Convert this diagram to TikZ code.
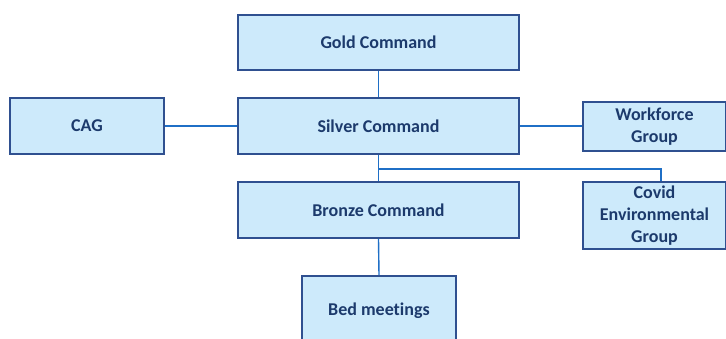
\documentclass[tikz,border=0pt]{standalone}
\usepackage{fontspec}
\setmainfont[Ligatures={NoCommon}]{Carlito}
\definecolor{boxfill}{HTML}{CDEAFB}
\definecolor{boxdraw}{HTML}{2F5090}
\definecolor{boxtext}{HTML}{1C3A6C}
\definecolor{linkcol}{HTML}{1F6FC6}
\begin{document}
\begin{tikzpicture}[x=1pt,y=-1pt,
  orgbox/.style={draw=boxdraw,fill=boxfill,line width=2pt,text=boxtext,
    font=\fontsize{18}{21.7}\selectfont\bfseries,align=center,inner sep=0pt},
  link/.style={draw=linkcol,line width=1.4pt}]
\useasboundingbox (0,0) rectangle (726,338);
\clip (0,0) rectangle (726,338);
\node[orgbox,minimum width=281pt,minimum height=55pt] (gold) at (378.5,42.5) {Gold Command};
\node[orgbox,minimum width=281pt,minimum height=56pt] (silver) at (378.5,126) {Silver Command};
\node[orgbox,minimum width=154pt,minimum height=56pt] (cag) at (87,126) {CAG};
\node[orgbox,minimum width=143pt,minimum height=49pt] (work) at (654.5,126.5) {Workforce\\Group};
\node[orgbox,minimum width=143pt,minimum height=67pt] (covid) at (654.5,215.5) {Covid\\Environmental\\Group};
\node[orgbox,minimum width=281pt,minimum height=56pt] (bronze) at (378.5,210) {Bronze Command};
\node[orgbox,minimum width=154pt,minimum height=70pt] (bed) at (379,311) {Bed meetings};
\coordinate (split) at (379,169);
\coordinate (turn) at (661,169);
\draw[link] (gold.south) -- (silver.north);
\draw[link] (cag.east) -- (silver.west);
\draw[link] (silver.east) -- (work.west |- silver.east);
\draw[link] (silver.south) -- (bronze.north);
\draw[link] (split) -- (turn) -- (turn |- covid.north);
\draw[link] (bronze.south) -- (bed.north);
\end{tikzpicture}
\end{document}
